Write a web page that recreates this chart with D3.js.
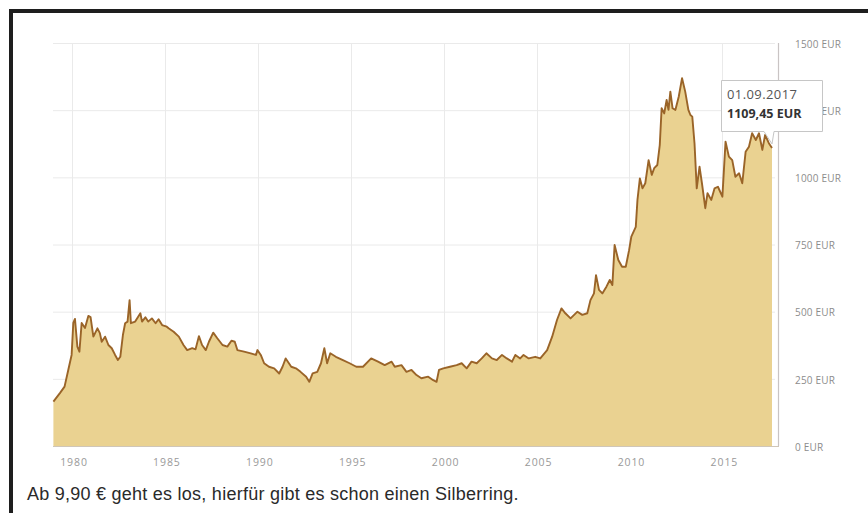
<!DOCTYPE html>
<html>
<head>
<meta charset="utf-8">
<script src="https://cdn.jsdelivr.net/npm/d3@7"></script>
<style>
  html, body { margin: 0; padding: 0; background: #fff; }
  svg { display: block; }
</style>
</head>
<body>
<svg id="chart" width="868" height="513"></svg>
<script>
// ---- data (decimal year, EUR) ----
const years = [
  1979.00,1979.35,1979.60,1979.80,1979.98,1980.07,1980.16,1980.29,1980.40,1980.52,1980.70,1980.88,
  1981.00,1981.15,1981.37,1981.50,1981.60,1981.78,1981.96,1982.14,1982.32,1982.47,1982.60,1982.74,
  1982.86,1982.99,1983.10,1983.17,1983.40,1983.68,1983.77,1983.95,1984.10,1984.30,1984.50,1984.66,
  1984.85,1985.10,1985.20,1985.47,1985.75,1986.00,1986.20,1986.47,1986.65,1986.83,1987.00,1987.20,
  1987.37,1987.60,1987.82,1988.10,1988.36,1988.58,1988.76,1988.90,1989.26,1989.62,1989.90,1989.98,
  1990.16,1990.34,1990.60,1990.88,1991.15,1991.33,1991.50,1991.80,1992.05,1992.30,1992.60,1992.77,
  1992.95,1993.20,1993.40,1993.58,1993.73,1993.90,1994.20,1994.58,1994.94,1995.30,1995.66,1996.10,
  1996.47,1996.83,1997.20,1997.37,1997.73,1998.00,1998.27,1998.54,1998.80,1999.17,1999.44,1999.62,
  1999.75,1999.98,2000.34,2000.70,2000.97,2001.24,2001.50,2001.78,2002.05,2002.30,2002.60,2002.86,
  2003.14,2003.40,2003.68,2003.86,2004.12,2004.30,2004.58,2004.93,2005.20,2005.57,2005.84,2006.10,
  2006.34,2006.55,2006.83,2007.20,2007.46,2007.73,2007.90,2008.09,2008.20,2008.36,2008.54,2008.76,
  2008.94,2009.08,2009.20,2009.40,2009.60,2009.80,2009.98,2010.10,2010.34,2010.43,2010.56,2010.70,
  2010.85,2011.03,2011.20,2011.33,2011.50,2011.63,2011.73,2011.87,2012.00,2012.10,2012.20,2012.32,
  2012.47,2012.65,2012.83,2013.00,2013.17,2013.28,2013.38,2013.50,2013.62,2013.77,2013.90,2014.08,
  2014.20,2014.40,2014.58,2014.76,2015.00,2015.17,2015.35,2015.53,2015.70,2015.90,2016.07,2016.25,
  2016.43,2016.60,2016.80,2016.97,2017.15,2017.30,2017.50,2017.67
];
const prices = [
  165,197,221,283,339,458,473,370,351,458,439,484,
  480,407,438,420,388,407,376,364,339,320,332,413,
  457,463,543,457,463,494,463,479,463,475,457,472,
  450,444,438,425,407,376,357,364,360,409,376,357,
  388,422,401,376,370,392,388,357,351,345,339,357,
  339,308,295,289,270,295,326,295,289,276,258,239,
  270,276,308,364,308,345,332,320,308,295,295,326,
  314,301,314,295,301,276,283,264,252,258,245,239,
  283,289,295,301,308,289,314,308,326,345,326,320,
  339,326,314,339,326,339,326,332,326,357,407,469,
  512,494,475,500,488,494,543,568,636,581,568,593,
  618,599,748,692,667,667,729,779,816,916,996,959,
  978,1064,1009,1034,1046,1120,1257,1238,1288,1251,1319,1257,
  1251,1300,1369,1319,1251,1232,1226,1127,959,1040,978,885,
  941,916,959,965,928,1133,1077,1064,1002,1015,978,1095,
  1114,1164,1139,1164,1102,1158,1127,1109.45
];
const xTickYears = [1980, 1985, 1990, 1995, 2000, 2005, 2010, 2015];
const yTickValues = [0, 250, 500, 750, 1000, 1250, 1500];
const tooltipDate = "01.09.2017";
const tooltipValue = "1109,45 EUR";
const caption = "Ab 9,90 € geht es los, hierfür gibt es schon einen Silberring.";

const data = years.map((y, i) => ({ year: y, value: prices[i] }));

const svg = d3.select("#chart");

// frame
svg.append("rect").attr("x", 0).attr("y", 0).attr("width", 868).attr("height", 513).attr("fill", "#fff");
svg.append("rect").attr("x", 9).attr("y", 9).attr("width", 859).attr("height", 4).attr("fill", "#1e1e1e");
svg.append("rect").attr("x", 9).attr("y", 9).attr("width", 4).attr("height", 504).attr("fill", "#1e1e1e");

const x = d3.scaleLinear().domain([d3.min(years), d3.max(years)]).range([53.4, 772]);
const y = d3.scaleLinear().domain([0, 1500]).range([446, 43]);

// gridlines
const grid = svg.append("g");
grid.selectAll("line.h").data(yTickValues).join("line")
  .attr("x1", 53).attr("x2", 775)
  .attr("y1", d => y(d) + 0.5).attr("y2", d => y(d) + 0.5)
  .attr("stroke", "#eaeaea").attr("stroke-width", 1);
grid.selectAll("line.v").data(xTickYears).join("line")
  .attr("x1", d => Math.round(x(d)) + 0.5).attr("x2", d => Math.round(x(d)) + 0.5)
  .attr("y1", 43).attr("y2", 446)
  .attr("stroke", "#eaeaea").attr("stroke-width", 1);

// area + line
const area = d3.area().x(d => x(d.year)).y0(y(0)).y1(d => y(d.value));
const line = d3.line().x(d => x(d.year)).y(d => y(d.value));
svg.append("path").datum(data).attr("d", area).attr("fill", "#ead291");
svg.append("path").datum(data).attr("d", line)
  .attr("fill", "none").attr("stroke", "#9a6428").attr("stroke-width", 1.9).attr("stroke-linejoin", "round");

// baseline
svg.append("line").attr("x1", 53).attr("x2", 779).attr("y1", 446.5).attr("y2", 446.5)
  .attr("stroke", "#cfc6b8").attr("stroke-width", 1);
// right vertical (crosshair) line
svg.append("line").attr("x1", 778.5).attr("x2", 778.5).attr("y1", 43).attr("y2", 446)
  .attr("stroke", "#c9c4c4").attr("stroke-width", 1.2);

// x axis labels
const xAxis = d3.axisBottom(x).tickValues(xTickYears).tickFormat(d3.format("d")).tickSize(0).tickPadding(0);
const gx = svg.append("g").attr("transform", "translate(1.5,462)").call(xAxis);
gx.select(".domain").remove();
gx.selectAll("text").attr("font-family", "Open Sans, sans-serif").attr("font-size", 10.5)
  .attr("letter-spacing", 0.9).attr("fill", "#999").attr("dy", "0.35em").attr("y", 0);

// y axis labels
const yAxis = d3.axisRight(y).tickValues(yTickValues).tickFormat(d => d + " EUR").tickSize(0).tickPadding(0);
const gy = svg.append("g").attr("transform", "translate(795,1)").call(yAxis);
gy.select(".domain").remove();
gy.selectAll("text").attr("font-family", "Open Sans, sans-serif").attr("font-size", 10)
  .attr("letter-spacing", 0.2).attr("fill", "#8c8c8c").attr("x", 0);

// tooltip
const last = data[data.length - 1];
const px = x(last.year), py = y(last.value);
const tt = svg.append("g");
tt.append("path")
  .attr("d", `M721.5,80.5 H822.5 V131.5 H${px + 2} L${px},${py - 4} L${px - 8},131.5 H721.5 Z`)
  .attr("fill", "#fff").attr("stroke", "#c6c6c6").attr("stroke-width", 1);
tt.append("text").attr("x", 727).attr("y", 99).text(tooltipDate)
  .attr("font-family", "Open Sans, sans-serif").attr("font-size", 13).attr("letter-spacing", 0.4).attr("fill", "#555");
tt.append("text").attr("x", 727).attr("y", 118).text(tooltipValue)
  .attr("font-family", "Open Sans, sans-serif").attr("font-size", 12.5).attr("font-weight", "bold").attr("fill", "#333");

// caption
svg.append("text").attr("x", 27).attr("y", 500).text(caption)
  .attr("font-family", "Liberation Sans, Arial, sans-serif").attr("font-size", 18)
  .attr("letter-spacing", 0.25).attr("fill", "#2a2a2a");
</script>
</body>
</html>
